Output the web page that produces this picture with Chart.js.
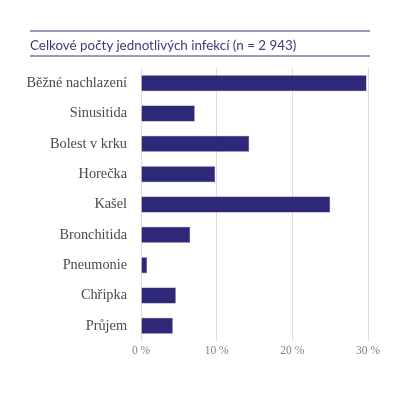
<!DOCTYPE html>
<html>
<head>
<meta charset="utf-8">
<script src="https://cdn.jsdelivr.net/npm/chart.js@4"></script>
<style>
  html, body { margin: 0; padding: 0; background: #fff; }
  #wrap { position: relative; width: 400px; height: 403px; }
  #title {
    position: absolute; left: 30px; top: 30px; width: 340px; height: 21px;
    padding-top: 2px;
    border-top: 2px solid #9c9cb9; border-bottom: 2px solid #9c9cb9;
    font-family: Lato, sans-serif; font-size: 13.4px; color: #3d3b7c;
    line-height: 23px; box-sizing: content-box; z-index: 2;
  }
  #box { position: absolute; left: 0; top: 0; width: 400px; height: 403px; }
</style>
</head>
<body>
<div id="wrap">
  <div id="title">Celkové počty jednotlivých infekcí (n = 2 943)</div>
  <div id="box"><canvas id="chart"></canvas></div>
</div>
<script>
const categories = ["Běžné nachlazení", "Sinusitida", "Bolest v krku", "Horečka", "Kašel",
  "Bronchitida", "Pneumonie", "Chřipka", "Průjem"];
const shares = [29.8, 7.1, 14.3, 9.8, 25.0, 6.5, 0.8, 4.6, 4.2];
const xTicks = [0, 10, 20, 30];

new Chart(document.getElementById("chart").getContext("2d"), {
  type: "bar",
  data: {
    labels: categories,
    datasets: [{
      data: shares,
      backgroundColor: "#2d2878",
      borderColor: "#3b3686",
      borderWidth: 0.5,
      barPercentage: 0.53,
      categoryPercentage: 1,
    }],
  },
  options: {
    indexAxis: "y",
    responsive: true,
    maintainAspectRatio: false,
    animation: false,
    layout: { padding: { top: 68, right: 32, left: 0, bottom: 42 } },
    plugins: { legend: { display: false }, tooltip: { enabled: false } },
    scales: {
      x: {
        min: 0,
        max: 30,
        afterBuildTicks: (scale) => { scale.ticks = xTicks.map((v) => ({ value: v })); },
        afterFit: (scale) => { scale.height = 20; },
        border: { display: false },
        grid: { color: "#dcdce6", lineWidth: 1, drawTicks: false },
        ticks: {
          padding: 3,
          color: "#808080",
          font: { family: "Liberation Serif", size: 11.5 },
          callback: (v) => v + " %",
        },
      },
      y: {
        afterFit: (scale) => { scale.width = 141; },
        border: { display: false },
        grid: { display: false, drawTicks: false },
        ticks: {
          padding: 14,
          color: "#4a4a4a",
          font: { family: "Liberation Serif", size: 14.3 },
        },
      },
    },
  },
});
</script>
</body>
</html>
